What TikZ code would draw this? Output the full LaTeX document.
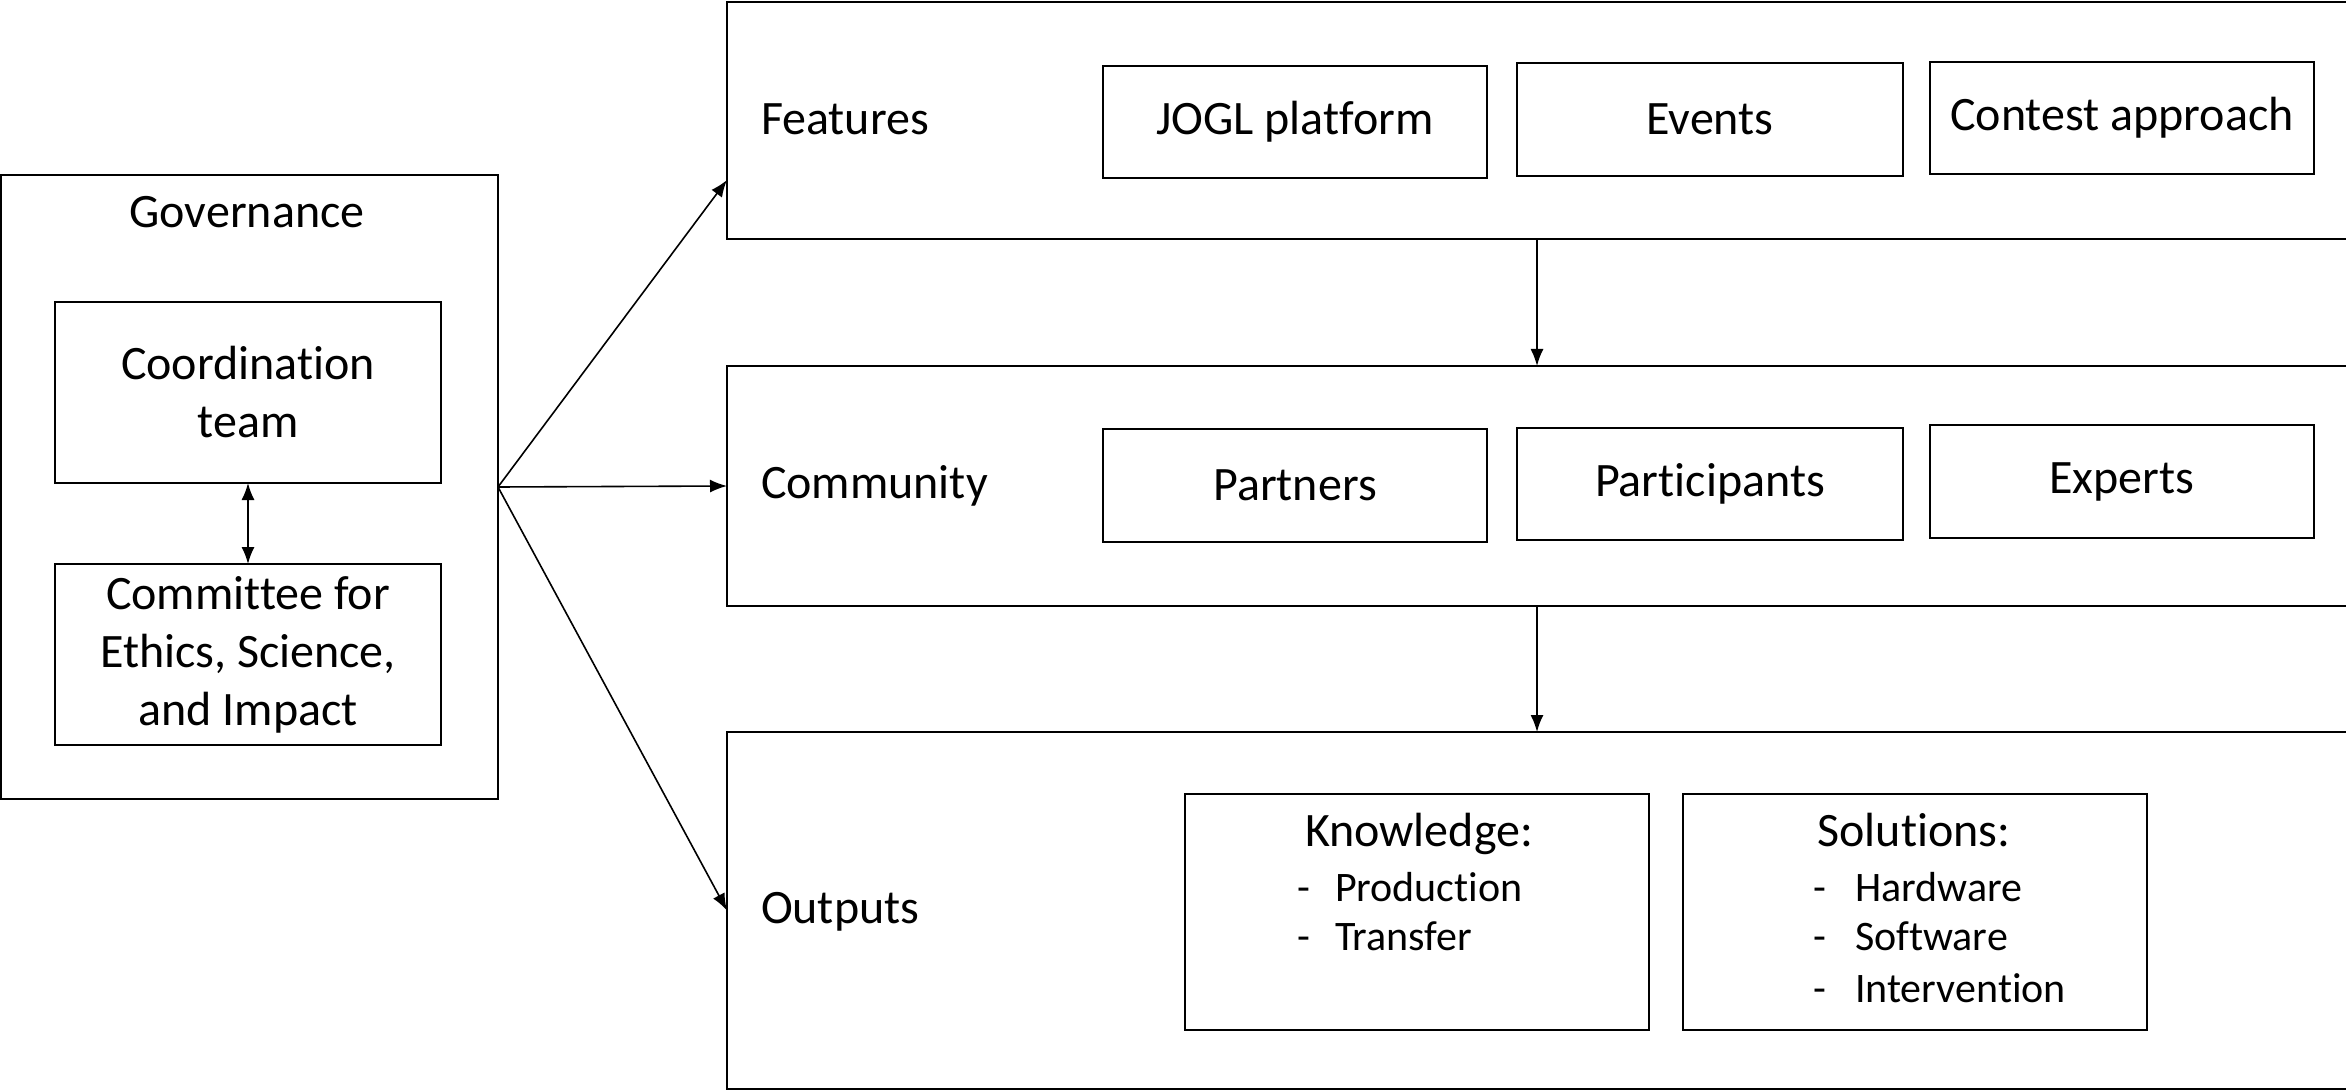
\documentclass[tikz,border=0pt]{standalone}
\usepackage{fontspec}
\setmainfont[Ligatures={NoCommon}]{Carlito}
\usetikzlibrary{arrows.meta}
\begin{document}
\begin{tikzpicture}[x=1pt,y=-1pt,
  box/.style={draw, line width=2.2pt, inner sep=0pt, outer sep=0pt, align=center, font=\fontsize{48}{58}\selectfont},
  lbl/.style={inner sep=0pt, outer sep=0pt, font=\fontsize{48}{58}\selectfont},
  item/.style={inner sep=0pt, outer sep=0pt, font=\fontsize{42}{50}\selectfont},
  arr/.style={line width=1.6pt, -{Latex[length=17pt,width=13pt]}},
  darr/.style={line width=1.6pt, {Latex[length=17pt,width=13pt]}-{Latex[length=17pt,width=13pt]}},
]
\useasboundingbox (0,0) rectangle (2346,1091);

% Governance
\node[box, minimum width=497pt, minimum height=624pt] (gov) at (249.5,487) {};
\node[lbl, anchor=base] (govt) at (247,228) {Governance};
\node[box, minimum width=386pt, minimum height=181pt] (coord) at (248,392.5) {Coordination\\team};
\node[box, minimum width=386pt, minimum height=181pt] (cesi) at (248,654.5) {Committee for\\Ethics, Science,\\and Impact};
\draw[darr] (coord.south) -- (cesi.north);

% Outer boxes
\node[box, minimum width=1653pt, minimum height=237pt] (feat) at (1553.5,120.5) {};
\node[box, minimum width=1653pt, minimum height=240pt] (comm) at (1553.5,486) {};
\node[box, minimum width=1653pt, minimum height=357pt] (outp) at (1553.5,910.5) {};

\node[lbl, anchor=base west] (featt) at (761,135) {Features};
\node[lbl, anchor=base west] (commt) at (761,498) {Community};
\node[lbl, anchor=base west] (outpt) at (761,923) {Outputs};

% Feature boxes
\node[box, minimum width=384pt, minimum height=112pt] (jogl) at (1295,122) {JOGL platform};
\node[box, minimum width=386pt, minimum height=113pt] (events) at (1710,119.5) {Events};
\node[box, minimum width=384pt, minimum height=112pt] (contest) at (2122,118) {Contest approach};

% Community boxes
\node[box, minimum width=384pt, minimum height=113pt] (partners) at (1295,485.5) {Partners};
\node[box, minimum width=386pt, minimum height=112pt] (particip) at (1710,484) {Participants};
\node[box, minimum width=384pt, minimum height=113pt] (experts) at (2122,481.5) {Experts};

% Output boxes
\node[box, minimum width=464pt, minimum height=236pt] (know) at (1417,912) {};
\node[box, minimum width=464pt, minimum height=236pt] (sol) at (1915,912) {};

\node[lbl, anchor=base] (knowt) at (1419,846) {Knowledge:};
\node[item, anchor=base] (kd1) at (1304,901) {-};
\node[item, anchor=base west] (k1) at (1335,901) {Production};
\node[item, anchor=base] (kd2) at (1304,950) {-};
\node[item, anchor=base west] (k2) at (1335,950) {Transfer};

\node[lbl, anchor=base] (solt) at (1914,846) {Solutions:};
\node[item, anchor=base] (sd1) at (1820,901) {-};
\node[item, anchor=base west] (s1) at (1855,901) {Hardware};
\node[item, anchor=base] (sd2) at (1820,950) {-};
\node[item, anchor=base west] (s2) at (1855,950) {Software};
\node[item, anchor=base] (sd3) at (1820,1002) {-};
\node[item, anchor=base west] (s3) at (1855,1002) {Intervention};

% Connectors
\coordinate (gout) at (gov.east);
\coordinate (fin) at (727,180);
\coordinate (vx) at (1537,0);
\draw[arr] (gout) -- (fin);
\draw[arr] (gout) -- (comm.west);
\draw[arr] (gout) -- (outp.west);
\draw[arr] (feat.south -| vx) -- (comm.north -| vx);
\draw[arr] (comm.south -| vx) -- (outp.north -| vx);
\end{tikzpicture}
\end{document}
